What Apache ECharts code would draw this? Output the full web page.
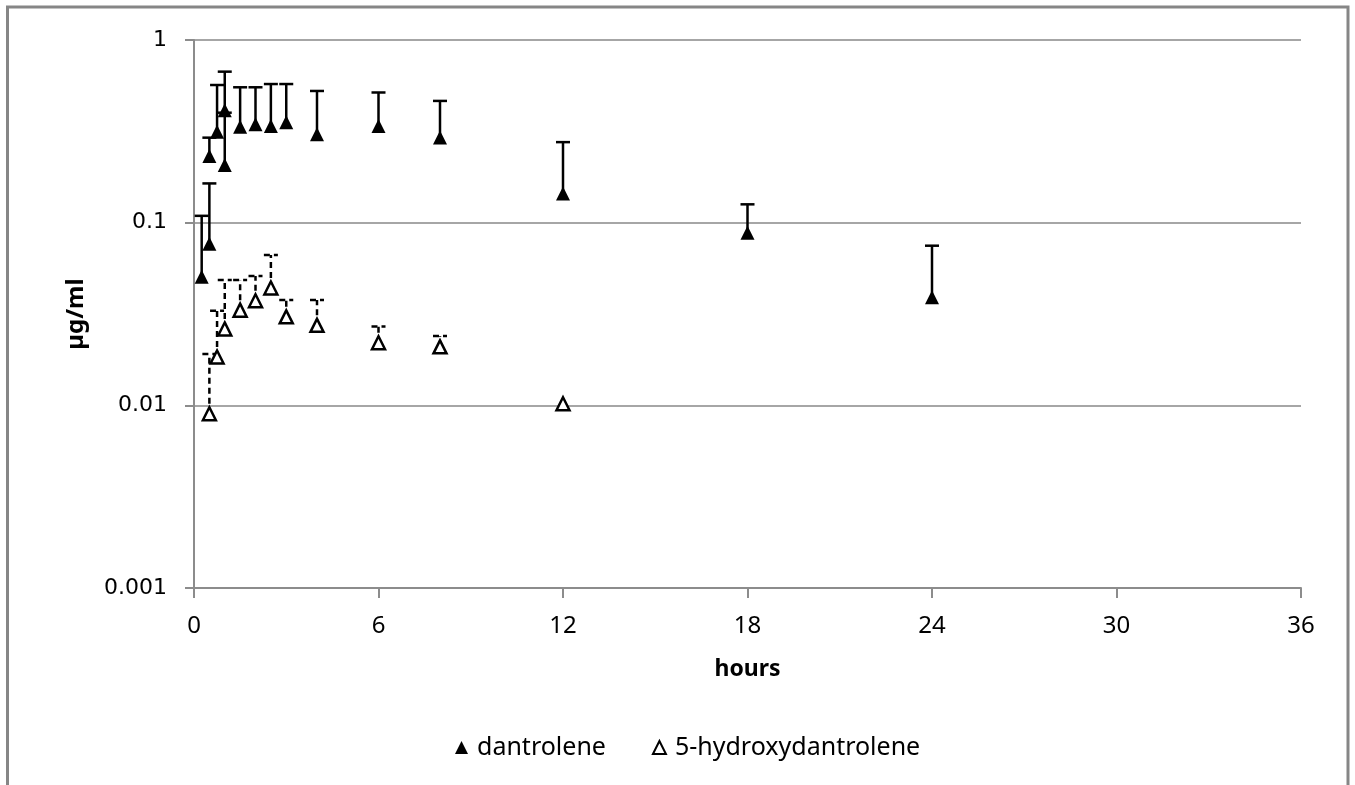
<!DOCTYPE html>
<html>
<head>
<meta charset="utf-8">
<script src="https://cdn.jsdelivr.net/npm/echarts@6/dist/echarts.min.js"></script>
<style>
  html, body { margin: 0; padding: 0; background: #fff; }
  #main { width: 1355px; height: 785px; }
</style>
</head>
<body>
<div id="main"></div>
<script>
// hours after dose
const dantTimes = [0.25, 0.5, 0.5, 0.75, 1, 1, 1.5, 2, 2.5, 3, 4, 6, 8, 12, 18, 24];
const dantMean = [0.0505, 0.0767, 0.232, 0.315, 0.412, 0.207, 0.335, 0.346, 0.338, 0.355, 0.305, 0.338, 0.293, 0.1445, 0.0882, 0.0391];
const dantUpper = [0.109, 0.164, 0.292, 0.567, 0.671, 0.40, 0.551, 0.551, 0.574, 0.574, 0.526, 0.516, 0.464, 0.276, 0.126, 0.0748];

const hydTimes = [0.5, 0.75, 1, 1.5, 2, 2.5, 3, 4, 6, 8, 12];
const hydMean = [0.0090, 0.0184, 0.0262, 0.0332, 0.0374, 0.0439, 0.0305, 0.0274, 0.0220, 0.0209, 0.0102];
const hydUpper = [0.0191, 0.0329, 0.0486, 0.0486, 0.0511, 0.0666, 0.0377, 0.0377, 0.0270, 0.0240, null];

const xTicks = [0, 6, 12, 18, 24, 30, 36];
const yTicks = [0.001, 0.01, 0.1, 1];

function errorBar(dash) {
  return function (params, api) {
    const x = api.value(0);
    const p = api.coord([x, api.value(1)]);
    const t = api.coord([x, api.value(2)]);
    const style = { stroke: '#000', lineWidth: 2.5, lineDash: dash };
    return {
      type: 'group',
      children: [
        { type: 'line', shape: { x1: p[0], y1: p[1], x2: t[0], y2: t[1] }, style: style },
        { type: 'line', shape: { x1: t[0] - 7, y1: t[1], x2: t[0] + 7, y2: t[1] }, style: style }
      ]
    };
  };
}

const chart = echarts.init(document.getElementById('main'));
chart.setOption({
  animation: false,
  backgroundColor: '#fff',
  grid: { left: 194, right: 54, top: 40, bottom: 197 },
  xAxis: {
    type: 'value', min: 0, max: 36, interval: 6,
    name: 'hours', nameLocation: 'middle', nameGap: 70,
    nameTextStyle: { fontFamily: 'Noto Sans', fontWeight: 'bold', fontSize: 23, color: '#000' },
    axisLine: { lineStyle: { color: '#8c8c8c', width: 2 } },
    axisTick: { show: true, length: 10, lineStyle: { color: '#8c8c8c', width: 2 } },
    axisLabel: {
      margin: 26, fontFamily: 'Noto Sans', fontSize: 24, color: '#000',
      customValues: xTicks
    },
    splitLine: { show: false }
  },
  yAxis: {
    type: 'log', logBase: 10, min: 0.001, max: 1,
    name: 'µg/ml', nameLocation: 'middle', nameGap: 106,
    nameTextStyle: { fontFamily: 'Noto Sans', fontWeight: 'bold', fontSize: 24, color: '#000' },
    axisLine: { show: true, lineStyle: { color: '#8c8c8c', width: 2 } },
    axisTick: { show: true, length: 9, lineStyle: { color: '#8c8c8c', width: 2 } },
    axisLabel: {
      margin: 27, fontFamily: 'DejaVu Sans', fontSize: 22, color: '#000',
      formatter: function (v) {
        const n = Number(Number(v).toPrecision(1));
        return yTicks.indexOf(n) >= 0 ? String(n) : '';
      }
    },
    splitLine: { show: true, lineStyle: { color: '#a6a6a6', width: 2 } },
    minorTick: { show: false }
  },
  legend: {
    bottom: 20, left: 450, itemGap: 46, itemWidth: 13, itemHeight: 13,
    textStyle: { fontFamily: 'Noto Sans', fontSize: 25, color: '#000', padding: [0, 0, 0, 4] },
    data: [
      { name: 'dantrolene', icon: 'triangle' },
      { name: '5-hydroxydantrolene', icon: 'triangle' }
    ]
  },
  graphic: [{
    type: 'rect', silent: true, z: 100,
    shape: { x: 7.5, y: 7, width: 1340.5, height: 820 },
    style: { fill: 'none', stroke: '#868686', lineWidth: 3 }
  }],
  series: [
    {
      type: 'custom', name: 'dantrolene-err', z: 2,
      renderItem: errorBar(null),
      data: dantTimes.map((t, i) => [t, dantMean[i], dantUpper[i]]),
      encode: { x: 0, y: [1, 2] }
    },
    {
      type: 'custom', name: 'hyd-err', z: 2,
      renderItem: errorBar([6, 4]),
      data: hydTimes.map((t, i) => [t, hydMean[i], hydUpper[i]]).filter(d => d[2] != null),
      encode: { x: 0, y: [1, 2] }
    },
    {
      type: 'scatter', name: 'dantrolene', z: 5,
      symbol: 'triangle', symbolSize: 14,
      itemStyle: { color: '#000', opacity: 1 },
      data: dantTimes.map((t, i) => [t, dantMean[i]])
    },
    {
      type: 'scatter', name: '5-hydroxydantrolene', z: 5,
      symbol: 'triangle', symbolSize: 13,
      itemStyle: { color: '#fff', borderColor: '#000', borderWidth: 2.5, opacity: 1 },
      data: hydTimes.map((t, i) => [t, hydMean[i]])
    }
  ]
});
</script>
</body>
</html>
